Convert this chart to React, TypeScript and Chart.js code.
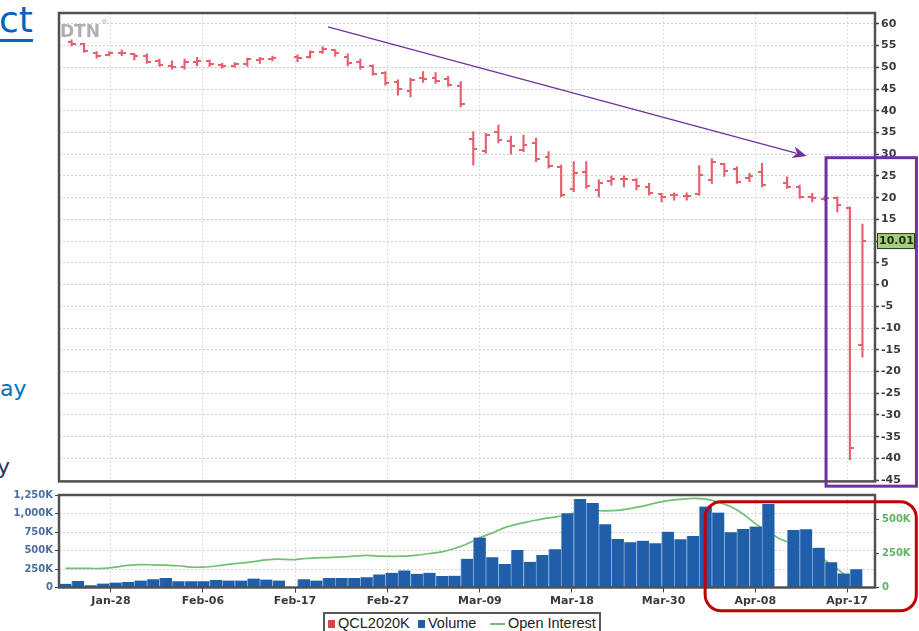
import React, { useEffect, useRef } from 'react';
import { Chart, registerables } from 'chart.js';

Chart.register(...registerables);
Chart.defaults.font.family = "'DejaVu Sans', sans-serif";

// ---------- DATA ----------
// Trading sessions of the May-2020 WTI contract shown on the price panel (holiday slots included)
const sessions = [
  'Jan-23','Jan-24','Jan-27','Jan-28','Jan-29','Jan-30','Jan-31',
  'Feb-03','Feb-04','Feb-05','Feb-06','Feb-07','Feb-10','Feb-11','Feb-12','Feb-13','Feb-14','Feb-17',
  'Feb-18','Feb-19','Feb-20','Feb-21','Feb-24','Feb-25','Feb-26','Feb-27','Feb-28',
  'Mar-02','Mar-03','Mar-04','Mar-05','Mar-06','Mar-09','Mar-10','Mar-11','Mar-12','Mar-13',
  'Mar-16','Mar-17','Mar-18','Mar-19','Mar-20','Mar-23','Mar-24','Mar-25','Mar-26','Mar-27',
  'Mar-30','Mar-31','Apr-01','Apr-02','Apr-03','Apr-06','Apr-07','Apr-08','Apr-09','Apr-10',
  'Apr-13','Apr-14','Apr-15','Apr-16','Apr-17','Apr-20','Apr-21',
];

const openPx: (number | null)[] = [
  55.9,55.4,53.3,52.8,53.4,53.0,52.6,51.4,50.4,50.1,51.3,51.4,50.6,50.3,50.7,51.6,52.0,null,
  52.3,52.4,53.6,54.0,52.3,51.3,50.3,48.6,46.6,44.5,47.5,47.6,47.2,45.8,
  33.5,30.8,35.2,33.0,31.0,32.5,29.4,27.0,22.0,25.8,21.8,23.8,24.2,24.0,22.5,20.8,20.6,20.3,
  20.8,24.0,27.8,26.5,24.5,25.8,null,23.3,22.4,20.2,19.8,19.9,17.7,-14.0,
];
const highPx: (number | null)[] = [
  56.3,55.6,53.6,53.6,54.0,53.2,53.1,51.9,51.5,51.9,52.3,51.7,50.9,51.1,52.1,52.3,52.6,null,
  52.9,53.8,54.8,54.0,53.1,51.9,50.6,49.0,47.1,47.5,49.0,48.8,47.9,46.7,
  35.2,34.8,36.7,34.2,34.4,33.7,30.6,27.5,28.3,28.3,24.1,25.0,25.0,24.4,23.3,21.0,21.1,21.1,
  27.4,29.0,27.9,27.1,25.6,27.9,null,24.8,22.9,21.0,20.4,20.2,17.9,13.9,
];
const lowPx: (number | null)[] = [
  54.9,53.4,52.1,52.6,52.7,51.7,50.9,50.2,49.6,49.6,50.3,50.2,49.8,50.0,50.2,50.9,51.5,null,
  51.3,52.1,53.2,52.5,50.3,49.6,48.2,45.9,43.6,43.2,46.5,46.3,45.6,40.9,
  27.5,30.2,32.6,30.0,30.6,28.3,26.8,20.2,21.4,22.1,20.2,22.9,22.5,21.8,20.6,19.0,19.4,19.4,
  20.5,23.3,24.9,23.3,23.7,22.5,null,22.1,19.8,19.0,19.3,16.7,-40.3,-16.7,
];
const closePx: (number | null)[] = [
  55.4,53.7,52.7,53.3,53.2,52.5,51.2,50.6,50.0,51.3,51.4,50.7,50.2,50.8,51.8,52.0,52.2,null,
  52.2,53.5,54.2,53.4,50.9,50.0,48.5,46.4,44.9,47.0,47.3,46.9,46.0,41.5,
  31.3,34.4,33.2,31.8,32.1,28.8,27.3,20.6,25.7,22.6,23.4,24.3,24.3,22.6,21.1,20.1,20.5,20.3,
  25.3,28.3,26.1,23.6,25.1,22.8,null,22.4,20.1,19.9,19.9,18.3,-37.6,10.01,
];

// Volume and open interest (thousands), one slot per session starting Jan-22 through Apr-20
const volumeK: (number | null)[] = [
  50,88,31,54,68,76,95,113,130,86,86,86,103,95,95,122,107,95,null,
  113,95,130,130,130,140,177,198,231,185,198,154,160,
  390,674,408,317,507,348,439,516,1005,1196,1141,856,656,611,633,598,755,652,697,1095,1014,747,792,823,1127,
  null,778,788,538,340,190,245,
];
const openInterestK: number[] = [
  140,140,140,140,150,162,168,167,164,160,
  150,150,158,170,180,190,203,208,205,212,
  218,220,225,230,236,230,229,230,238,250,
  262,287,320,365,400,440,466,485,505,518,
  535,555,565,563,567,580,598,620,638,648,
  655,650,628,595,540,468,410,355,320,280,
  230,170,100,30,
];

const xTickLabels = ['Jan-28','Feb-06','Feb-17','Feb-27','Mar-09','Mar-18','Mar-30','Apr-08','Apr-17'];
const xTickAt = [4.14, 11.47, 18.8, 26.2, 33.53, 40.86, 48.16, 55.46, 62.78];
const priceTicks = [-45,-40,-35,-30,-25,-20,-15,-10,-5,0,5,10,15,20,25,30,35,40,45,50,55,60];
const volumeTicksK = [0, 250, 500, 750, 1000, 1250];
const oiTicksK = [0, 250, 500];

// Annotations (in data units of each panel)
const arrowFrom = { x: 21.43, y: 59.3 };
const arrowTo = { x: 59.56, y: 29.6 };
const purpleBox = { x0: 61.1, x1: 68.3, y0: 29.2, y1: -46.4 };
const redBox = { x0: 51.47, x1: 68.29, y0: 1160, y1: -315 };

// ---------- STYLE ----------
const RED = '#e8606d';
const LEGEND_RED = '#d9434f';
const BLUE = '#1f5ea8';
const GREEN = '#72c172';
const FRAME = '#515151';
const PURPLE = '#7030a0';
const AXIS_FONT = { family: "'DejaVu Sans', sans-serif", size: 11, weight: 'bold' as const };
const SMALL_FONT = { family: "'DejaVu Sans', sans-serif", size: 10, weight: 'bold' as const };

function tickImage(side: 'left' | 'right') {
  const c = document.createElement('canvas');
  c.width = 8;
  c.height = 2;
  const g = c.getContext('2d')!;
  g.fillStyle = RED;
  if (side === 'left') g.fillRect(0, 0, 4, 2);
  else g.fillRect(4, 0, 4, 2);
  return c;
}

const fixedTicks = (vals: number[]) => (s: any) => {
  s.ticks = vals.map((v) => ({ value: v }));
};

const priceDecor = {
  id: 'priceDecor',
  beforeDatasetsDraw(chart: any) {
    const { ctx, chartArea: a } = chart;
    ctx.save();
    ctx.fillStyle = '#b0b0b0';
    ctx.font = "bold 17px 'DejaVu Sans'";
    ctx.textBaseline = 'alphabetic';
    ctx.fillText('DTN', a.left + 1, a.top + 24);
    const w = ctx.measureText('DTN').width;
    ctx.font = "7px 'DejaVu Sans'";
    ctx.fillText('®', a.left + 2 + w, a.top + 11);
    ctx.restore();
  },
  afterDraw(chart: any) {
    const { ctx, chartArea: a, scales } = chart;
    const xs = scales.x;
    const ys = scales.y;
    ctx.save();
    // frame
    ctx.strokeStyle = FRAME;
    ctx.lineWidth = 2.5;
    ctx.strokeRect(a.left, a.top, a.right - a.left, a.bottom - a.top);

    // last price tag
    const last = closePx[closePx.length - 1] as number;
    const yp = ys.getPixelForValue(last);
    ctx.fillStyle = '#a4cf7c';
    ctx.strokeStyle = '#2d3a22';
    ctx.lineWidth = 1;
    ctx.fillRect(a.right + 2, yp - 8, 38, 16);
    ctx.strokeRect(a.right + 2.5, yp - 7.5, 37, 15);
    ctx.fillStyle = '#1d2a12';
    ctx.font = "bold 11px 'DejaVu Sans'";
    ctx.textBaseline = 'middle';
    ctx.textAlign = 'left';
    ctx.fillText(last.toFixed(2), a.right + 4, yp + 0.5);

    // arrow
    const x1 = xs.getPixelForValue(arrowFrom.x);
    const y1 = ys.getPixelForValue(arrowFrom.y);
    const x2 = xs.getPixelForValue(arrowTo.x);
    const y2 = ys.getPixelForValue(arrowTo.y);
    const ang = Math.atan2(y2 - y1, x2 - x1);
    const hl = 14;
    const hw = 6;
    const bx = x2 - hl * Math.cos(ang);
    const by = y2 - hl * Math.sin(ang);
    ctx.strokeStyle = PURPLE;
    ctx.fillStyle = PURPLE;
    ctx.lineWidth = 1.3;
    ctx.beginPath();
    ctx.moveTo(x1, y1);
    ctx.lineTo(bx + 3 * Math.cos(ang), by + 3 * Math.sin(ang));
    ctx.stroke();
    ctx.beginPath();
    ctx.moveTo(x2, y2);
    ctx.lineTo(bx + hw * Math.sin(ang), by - hw * Math.cos(ang));
    ctx.lineTo(bx + 4 * Math.cos(ang), by + 4 * Math.sin(ang));
    ctx.lineTo(bx - hw * Math.sin(ang), by + hw * Math.cos(ang));
    ctx.closePath();
    ctx.fill();

    // purple box
    const px0 = xs.getPixelForValue(purpleBox.x0);
    const px1 = xs.getPixelForValue(purpleBox.x1);
    const py0 = ys.getPixelForValue(purpleBox.y0);
    const py1 = ys.getPixelForValue(purpleBox.y1);
    ctx.lineWidth = 3;
    ctx.strokeRect(px0, py0, px1 - px0, py1 - py0);
    ctx.restore();
  },
};

const volumeDecor = {
  id: 'volumeDecor',
  afterDraw(chart: any) {
    const { ctx, chartArea: a, scales } = chart;
    ctx.save();
    ctx.strokeStyle = FRAME;
    ctx.lineWidth = 2.5;
    ctx.strokeRect(a.left, a.top, a.right - a.left, a.bottom - a.top);
    const xs = scales.x;
    const ys = scales.y;
    const rx0 = xs.getPixelForValue(redBox.x0);
    const rx1 = xs.getPixelForValue(redBox.x1);
    const ry0 = ys.getPixelForValue(redBox.y0);
    const ry1 = ys.getPixelForValue(redBox.y1);
    ctx.strokeStyle = '#c00000';
    ctx.lineWidth = 3;
    ctx.beginPath();
    (ctx as any).roundRect(rx0, ry0, rx1 - rx0, ry1 - ry0, 16);
    ctx.stroke();
    ctx.restore();
  },
};

export default function App() {
  const priceRef = useRef<HTMLCanvasElement>(null);
  const volRef = useRef<HTMLCanvasElement>(null);

  useEffect(() => {
    const hlData: any[] = [];
    const openData: any[] = [];
    const closeData: any[] = [];
    sessions.forEach((_, k) => {
      if (highPx[k] == null) return;
      hlData.push({ x: k + 1, y: [lowPx[k], highPx[k]] });
      openData.push({ x: k + 1, y: openPx[k] });
      closeData.push({ x: k + 1, y: closePx[k] });
    });

    const priceChart = new Chart(priceRef.current!, {
      type: 'bar',
      data: {
        datasets: [
          {
            type: 'bar',
            label: 'QCL2020K',
            data: hlData,
            backgroundColor: RED,
            borderWidth: 0,
            barThickness: 1.5,
            grouped: false,
          } as any,
          {
            type: 'line',
            label: 'open',
            data: openData,
            showLine: false,
            pointStyle: tickImage('left'),
            pointRadius: 3,
          } as any,
          {
            type: 'line',
            label: 'close',
            data: closeData,
            showLine: false,
            pointStyle: tickImage('right'),
            pointRadius: 3,
          } as any,
        ],
      },
      options: {
        responsive: false,
        animation: false,
        events: [],
        layout: { padding: { left: 59, right: 0, top: 13, bottom: 8 } },
        plugins: { legend: { display: false }, tooltip: { enabled: false } },
        scales: {
          x: {
            type: 'linear',
            min: 0,
            max: 65,
            offset: false,
            afterBuildTicks: fixedTicks(xTickAt),
            afterFit: (s: any) => {
              s.height = 0;
            },
            ticks: { display: false },
            grid: { color: '#dadada', drawTicks: false, offset: false },
            border: { display: false, dash: [2, 2] },
          },
          y: {
            position: 'right',
            min: -45.3,
            max: 62.5,
            afterBuildTicks: fixedTicks(priceTicks),
            afterFit: (s: any) => {
              s.width = 44;
            },
            ticks: { color: '#3a3a3a', font: AXIS_FONT, padding: 2, callback: (v: any) => String(v) },
            grid: { color: '#cfcfcf', tickColor: '#444', tickLength: 4, tickWidth: 1.5 },
            border: { display: false, dash: [2, 2] },
          },
        },
      } as any,
      plugins: [priceDecor],
    });

    const volData: any[] = [];
    volumeK.forEach((v, j) => {
      if (v == null) return;
      volData.push({ x: j + 0.5, y: v });
    });
    const oiData = openInterestK.map((v, j) => ({ x: j + 0.5, y: v }));

    const volChart = new Chart(volRef.current!, {
      type: 'bar',
      data: {
        datasets: [
          {
            type: 'bar',
            label: 'Volume',
            data: volData,
            yAxisID: 'y',
            backgroundColor: BLUE,
            borderColor: '#86a8d2',
            borderWidth: { left: 1, top: 0, right: 0, bottom: 0 },
            barPercentage: 1,
            categoryPercentage: 1,
            grouped: false,
            order: 0,
          } as any,
          {
            type: 'line',
            label: 'Open Interest',
            data: oiData,
            yAxisID: 'y2',
            borderColor: GREEN,
            borderWidth: 1.7,
            pointRadius: 0,
            tension: 0.3,
            order: 1,
          } as any,
        ],
      },
      options: {
        responsive: false,
        animation: false,
        events: [],
        layout: { padding: { left: 0, right: 0, top: 11, bottom: 23.5 } },
        plugins: { legend: { display: false }, tooltip: { enabled: false } },
        scales: {
          x: {
            type: 'linear',
            min: 0,
            max: 65,
            offset: false,
            afterBuildTicks: fixedTicks(xTickAt),
            afterFit: (s: any) => {
              s.height = 20;
            },
            ticks: {
              color: '#3a3a3a',
              font: AXIS_FONT,
              padding: 2,
              maxRotation: 0,
              autoSkip: false,
              callback: (_v: any, i: number) => xTickLabels[i],
            },
            grid: { color: '#dadada', tickColor: '#444', tickLength: 5, offset: false },
            border: { display: false, dash: [2, 2] },
          },
          y: {
            position: 'left',
            min: 0,
            max: 1250,
            afterBuildTicks: fixedTicks(volumeTicksK),
            afterFit: (s: any) => {
              s.width = 59;
            },
            ticks: {
              color: '#4a6fa0',
              font: SMALL_FONT,
              padding: 2,
              callback: (v: any) => (Number(v) === 0 ? '0' : `${Number(v).toLocaleString('en-US')}K`),
            },
            grid: { color: '#d2d2d2', tickColor: '#444', tickLength: 4 },
            border: { display: false, dash: [2, 2] },
          },
          y2: {
            position: 'right',
            min: 0,
            max: 680,
            afterBuildTicks: fixedTicks(oiTicksK),
            afterFit: (s: any) => {
              s.width = 44;
            },
            ticks: {
              color: '#5fb463',
              font: SMALL_FONT,
              padding: 3,
              callback: (v: any) => (Number(v) === 0 ? '0' : `${Number(v)}K`),
            },
            grid: { drawOnChartArea: false, tickColor: '#444', tickLength: 4 },
            border: { display: false },
          },
        },
      } as any,
      plugins: [volumeDecor],
    });

    return () => {
      priceChart.destroy();
      volChart.destroy();
    };
  }, []);

  const legendText: React.CSSProperties = {
    position: 'absolute',
    top: 1.5,
    fontFamily: "'Liberation Sans', sans-serif",
    fontSize: 14.5,
    lineHeight: '1',
    color: '#222',
    whiteSpace: 'nowrap',
  };

  return (
    <div
      style={{
        position: 'absolute',
        left: 0,
        top: 0,
        width: 919,
        height: 631,
        overflow: 'hidden',
        background: '#fff',
        fontFamily: "'DejaVu Sans', sans-serif",
      }}
    >
      <div
        style={{
          position: 'absolute',
          left: -1,
          top: 1.5,
          fontSize: 36,
          lineHeight: '1',
          color: '#0563c1',
          textDecoration: 'underline',
          textUnderlineOffset: '7px',
          textDecorationThickness: '3px',
          whiteSpace: 'nowrap',
        }}
      >
        ct
      </div>
      <div
        style={{
          position: 'absolute',
          left: 0,
          top: 378,
          fontSize: 22,
          lineHeight: '1',
          color: '#0070c0',
          whiteSpace: 'nowrap',
        }}
      >
        ay
      </div>
      <div
        style={{
          position: 'absolute',
          left: -3,
          top: 456,
          fontSize: 22,
          lineHeight: '1',
          color: '#1f3864',
          whiteSpace: 'nowrap',
        }}
      >
        y
      </div>

      <canvas ref={priceRef} width={919} height={490} style={{ position: 'absolute', left: 0, top: 0 }} />
      <canvas ref={volRef} width={919} height={147} style={{ position: 'absolute', left: 0, top: 484 }} />

      <div
        style={{
          position: 'absolute',
          left: 323,
          top: 612,
          width: 278,
          height: 30,
          boxSizing: 'border-box',
          border: '2px solid #5a5a5a',
          background: '#fff',
        }}
      >
        <span style={{ position: 'absolute', left: 3, top: 6, width: 7, height: 8, background: LEGEND_RED }} />
        <span style={{ ...legendText, left: 13 }}>QCL2020K</span>
        <span style={{ position: 'absolute', left: 93, top: 6, width: 7, height: 8, background: BLUE }} />
        <span style={{ ...legendText, left: 103 }}>Volume</span>
        <span style={{ position: 'absolute', left: 165, top: 9, width: 15, height: 2, background: GREEN }} />
        <span style={{ ...legendText, left: 183 }}>Open Interest</span>
      </div>
    </div>
  );
}
